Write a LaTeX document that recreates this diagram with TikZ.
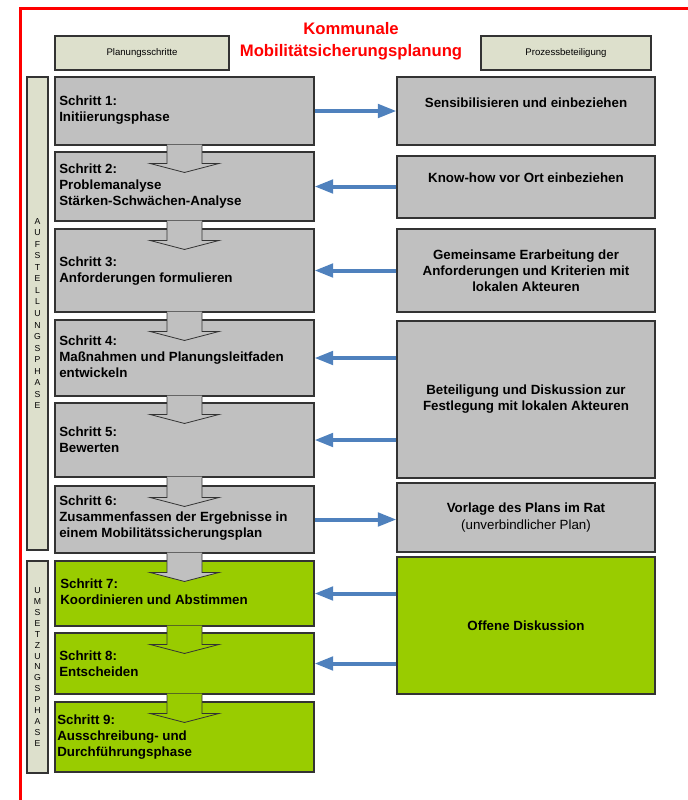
\documentclass[tikz,border=0pt]{standalone}
\usepackage{fontspec}
\setmainfont{Liberation Sans}
\usetikzlibrary{fit,calc,arrows.meta}
\definecolor{boxgrey}{HTML}{C0C0C0}
\definecolor{boxgreen}{HTML}{99CC00}
\definecolor{beige}{HTML}{DDE0CC}
\definecolor{arrblue}{HTML}{4F81BD}
\definecolor{edgecol}{HTML}{333333}
\newcommand\blockarr[3]{%
  \fill[#3] ($(#1.south)+(-17.5,-1)$) -- ($(#2.north)+(-17.5,12)$) -- ($(#2.north)+(-34.5,12)$)
    -- ($(#2.north)+(0,21)$) -- ($(#2.north)+(34.5,12)$) -- ($(#2.north)+(17.5,12)$)
    -- ($(#1.south)+(17.5,-1)$) -- cycle;
  \draw[arroutline] ($(#1.south)+(-17.5,0)$) -- ($(#2.north)+(-17.5,12)$) -- ($(#2.north)+(-34.5,12)$)
    -- ($(#2.north)+(0,21)$) -- ($(#2.north)+(34.5,12)$) -- ($(#2.north)+(17.5,12)$)
    -- ($(#1.south)+(17.5,0)$);
}
\begin{document}
\begin{tikzpicture}[x=0.75pt,y=-0.75pt,
  boxbase/.style={draw=edgecol, line width=0.8pt, inner sep=0pt},
  greybox/.style={boxbase, fill=boxgrey},
  greenbox/.style={boxbase, fill=boxgreen},
  beigebox/.style={boxbase, fill=beige},
  arroutline/.style={draw=edgecol, line width=0.6pt, line join=miter},
  steptext/.style={anchor=west, align=left, inner sep=0pt, font=\fontsize{10}{12}\selectfont\bfseries},
  righttext/.style={align=center, inner sep=0pt, font=\fontsize{10}{12}\selectfont\bfseries},
  headtext/.style={inner sep=0pt, font=\fontsize{7.2}{9}\selectfont},
  phasetext/.style={align=center, inner sep=0pt},
  bluearrow/.style={draw=arrblue, line width=3pt, -{Triangle[length=14pt,width=10pt]}}
]
\useasboundingbox (0,0) rectangle (688,800);
% red frame
\draw[red, line width=2.25pt] (690,8) -- (20,8) -- (20,802);
% title
\node[text=red, align=center, inner sep=0pt, font=\fontsize{12.5}{16.5}\selectfont\bfseries] (title) at (351,41) {Kommunale\\Mobilitätsicherungsplanung};
% header boxes
\node[beigebox, fit={(55,36) (229,70)}] (hl) {};
\node[headtext] at (hl.center) {Planungsschritte};
\node[beigebox, fit={(481,36) (651,70)}] (hr) {};
\node[headtext] at (hr.center) {Prozessbeteiligung};
% phase bars
\node[beigebox, fit={(27,77) (48,550)}] (p1) {};
\node[phasetext, font=\fontsize{6.5}{8.67}\selectfont] at (p1.center) {A\\U\\F\\S\\T\\E\\L\\L\\U\\N\\G\\S\\P\\H\\A\\S\\E};
\node[beigebox, fit={(27,561) (48,773)}] (p2) {};
\node[phasetext, font=\fontsize{6.5}{8.2}\selectfont] at (p2.center) {U\\M\\S\\E\\T\\Z\\U\\N\\G\\S\\P\\H\\A\\S\\E};
% step boxes
\node[greybox, fit={(55,77) (314,145)}] (s1) {};
\node[greybox, fit={(55,152) (314,221)}] (s2) {};
\node[greybox, fit={(55,229) (314,312)}] (s3) {};
\node[greybox, fit={(55,320) (314,396)}] (s4) {};
\node[greybox, fit={(55,403) (314,477)}] (s5) {};
\node[greybox, fit={(55,486) (314,553)}] (s6) {};
\node[greenbox, fit={(55,561) (314,626)}] (s7) {};
\node[greenbox, fit={(55,633) (314,694)}] (s8) {};
\node[greenbox, fit={(55,702) (314,772)}] (s9) {};
% block arrows
\blockarr{s1}{s2}{boxgrey}
\blockarr{s2}{s3}{boxgrey}
\blockarr{s3}{s4}{boxgrey}
\blockarr{s4}{s5}{boxgrey}
\blockarr{s5}{s6}{boxgrey}
\blockarr{s6}{s7}{boxgrey}
\blockarr{s7}{s8}{boxgreen}
\blockarr{s8}{s9}{boxgreen}
% step texts
\node[steptext] at (59,110.5) {Schritt 1:\\Initiierungsphase};
\node[steptext] at (59,186) {Schritt 2:\\Problemanalyse\\Stärken-Schwächen-Analyse};
\node[steptext] at (59,271) {Schritt 3:\\Anforderungen formulieren};
\node[steptext] at (59,357) {Schritt 4:\\Maßnahmen und Planungsleitfaden\\entwickeln};
\node[steptext] at (59,440) {Schritt 5:\\Bewerten};
\node[steptext] at (59,518.5) {Schritt 6:\\Zusammenfassen der Ergebnisse in\\einem Mobilitätssicherungsplan};
\node[steptext] at (60,592) {Schritt 7:\\Koordinieren und Abstimmen};
\node[steptext] at (59,663.5) {Schritt 8:\\Entscheiden};
\node[steptext] at (57,737) {Schritt 9:\\Ausschreibung- und\\Durchführungsphase};
% right boxes
\node[greybox, fit={(397,77) (655,145)}] (r1) {};
\node[righttext] at (526,103) {Sensibilisieren und einbeziehen};
\node[greybox, fit={(397,156) (655,218)}] (r2) {};
\node[righttext] at (526,178) {Know-how vor Ort einbeziehen};
\node[greybox, fit={(397,229) (655,312)}] (r3) {};
\node[righttext] at (r3.center) {Gemeinsame Erarbeitung der\\Anforderungen und Kriterien mit\\lokalen Akteuren};
\node[greybox, fit={(397,321) (655,478)}] (r4) {};
\node[righttext] at (r4.center) {Beteiligung und Diskussion zur\\Festlegung mit lokalen Akteuren};
\node[greybox, fit={(397,483) (655,552)}] (r5) {};
\node[righttext] at (r5.center) {Vorlage des Plans im Rat\\[1pt]{\fontsize{10}{12}\selectfont\mdseries (unverbindlicher Plan)}};
\node[greenbox, fit={(397,557) (655,694)}] (r6) {};
\node[righttext] at (r6.center) {Offene Diskussion};
% blue arrows
\draw[bluearrow] (s1.east) -- (r1.west |- s1.east);
\draw[bluearrow] (r2.west |- s2.east) -- (s2.east);
\draw[bluearrow] (r3.west |- s3.east) -- (s3.east);
\draw[bluearrow] (r4.west |- s4.east) -- (s4.east);
\draw[bluearrow] (r4.west |- s5.east) -- (s5.east);
\draw[bluearrow] (s6.east) -- (r5.west |- s6.east);
\draw[bluearrow] (r6.west |- s7.east) -- (s7.east);
\draw[bluearrow] (r6.west |- s8.east) -- (s8.east);
\end{tikzpicture}
\end{document}
